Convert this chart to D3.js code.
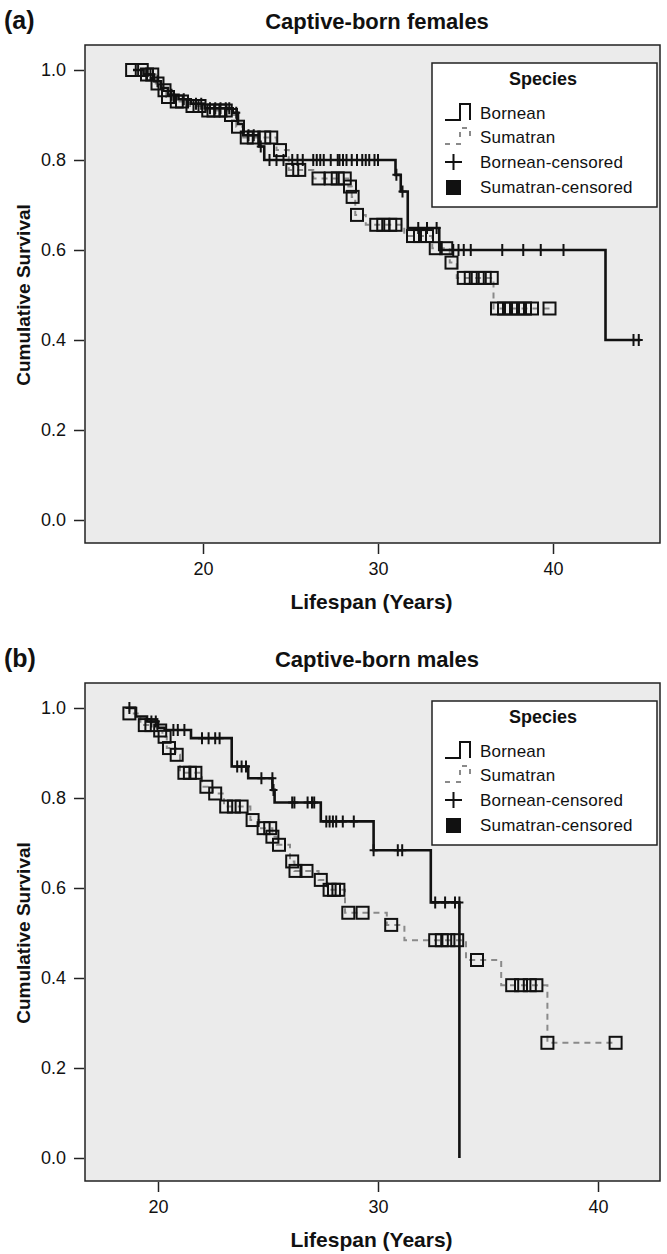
<!DOCTYPE html>
<html>
<head>
<meta charset="utf-8">
<script src="https://cdn.jsdelivr.net/npm/d3@7"></script>
<style>
  body { margin: 0; background: #fff; }
  svg text { font-family: "Liberation Sans", Arial, sans-serif; fill: #111; }
</style>
</head>
<body>
<div id="chart"></div>
<script>
// survival steps: [time in years, cumulative survival after the event]
const femaleBorneanSteps = [
  [16.0, 1.0], [16.6, 0.99], [17.2, 0.975], [17.6, 0.96], [18.0, 0.945], [18.6, 0.935],
  [19.3, 0.925], [20.1, 0.915], [21.7, 0.905], [22.0, 0.88], [22.3, 0.855], [23.2, 0.83],
  [23.5, 0.80], [31.0, 0.767], [31.3, 0.73], [31.7, 0.649], [33.5, 0.60], [43.0, 0.40], [45.0, 0.40]
];
const femaleBorneanCensored = [
  [16.8, 0.99], [17.0, 0.99], [17.4, 0.975], [18.2, 0.945], [18.9, 0.935], [19.6, 0.925],
  [19.9, 0.925], [20.4, 0.915], [20.7, 0.915], [21.0, 0.915], [21.3, 0.915], [21.5, 0.915],
  [21.9, 0.905], [22.6, 0.855], [22.9, 0.855], [23.3, 0.83], [23.8, 0.80], [24.2, 0.80],
  [24.6, 0.80], [25.1, 0.80], [25.4, 0.80], [25.7, 0.80], [26.3, 0.80], [26.5, 0.80],
  [26.7, 0.80], [26.9, 0.80], [27.3, 0.80], [27.7, 0.80], [27.8, 0.80], [28.0, 0.80],
  [28.2, 0.80], [28.5, 0.80], [28.8, 0.80], [29.1, 0.80], [29.3, 0.80], [29.5, 0.80],
  [29.8, 0.80], [30.0, 0.80], [31.05, 0.767], [31.4, 0.73], [32.3, 0.649], [32.8, 0.649],
  [33.35, 0.649], [34.3, 0.60], [34.6, 0.60], [34.9, 0.60], [35.3, 0.60], [37.1, 0.60],
  [38.3, 0.60], [39.3, 0.60], [40.6, 0.60], [44.6, 0.40], [44.9, 0.40]
];
const femaleSumatranSteps = [
  [16.0, 1.0], [16.7, 0.99], [17.3, 0.97], [17.7, 0.955], [17.9, 0.94], [18.3, 0.93],
  [19.2, 0.92], [20.1, 0.91], [21.5, 0.90], [21.9, 0.874], [22.3, 0.85], [24.2, 0.822],
  [24.9, 0.778], [26.3, 0.759], [28.3, 0.741], [28.5, 0.718], [28.7, 0.678], [29.3, 0.656],
  [31.5, 0.631], [33.1, 0.604], [34.1, 0.572], [34.5, 0.538], [36.6, 0.47], [39.8, 0.47]
];
const femaleSumatranCensored = [
  [15.95, 1.0], [16.5, 1.0], [16.8, 0.99], [17.1, 0.99], [17.4, 0.97], [17.8, 0.955],
  [18.0, 0.94], [18.5, 0.93], [18.8, 0.93], [19.4, 0.92], [19.8, 0.92], [20.3, 0.91],
  [20.6, 0.91], [21.0, 0.91], [21.3, 0.91], [21.6, 0.90], [22.0, 0.874], [22.5, 0.85],
  [22.9, 0.85], [23.5, 0.85], [23.9, 0.85], [24.4, 0.822], [25.1, 0.778], [25.5, 0.778],
  [26.6, 0.759], [27.3, 0.759], [27.7, 0.759], [28.1, 0.759], [28.4, 0.741], [28.55, 0.718],
  [28.8, 0.678], [29.9, 0.656], [30.3, 0.656], [30.7, 0.656], [31.0, 0.656], [32.0, 0.631],
  [32.4, 0.631], [32.8, 0.631], [33.3, 0.604], [33.9, 0.604], [34.2, 0.572], [34.9, 0.538],
  [35.3, 0.538], [35.7, 0.538], [36.1, 0.538], [36.5, 0.538], [36.8, 0.47], [37.2, 0.47],
  [37.6, 0.47], [38.0, 0.47], [38.4, 0.47], [38.8, 0.47], [39.8, 0.47]
];

const maleBorneanSteps = [
  [18.7, 1.0], [19.0, 0.981], [19.5, 0.97], [20.0, 0.956], [20.3, 0.951], [21.5, 0.933],
  [23.35, 0.87], [24.1, 0.844], [25.2, 0.818], [25.3, 0.79], [27.4, 0.748], [29.8, 0.684],
  [32.4, 0.568], [33.7, 0.0]
];
const maleBorneanCensored = [
  [18.7, 1.0], [19.7, 0.97], [19.9, 0.97], [20.7, 0.951], [20.9, 0.951], [21.2, 0.951],
  [22.0, 0.933], [22.3, 0.933], [22.6, 0.933], [22.8, 0.933], [23.6, 0.87], [23.8, 0.87],
  [24.0, 0.87], [24.7, 0.844], [25.2, 0.844], [25.25, 0.818], [26.1, 0.79], [26.2, 0.79],
  [26.8, 0.79], [27.0, 0.79], [27.1, 0.79], [27.65, 0.748], [27.8, 0.748], [27.95, 0.748],
  [28.1, 0.748], [28.4, 0.748], [28.9, 0.748], [29.8, 0.684], [30.9, 0.684], [31.1, 0.684],
  [32.6, 0.568], [33.05, 0.568], [33.5, 0.568], [33.7, 0.568]
];
const maleSumatranSteps = [
  [18.6, 1.0], [18.7, 0.988], [19.2, 0.962], [20.0, 0.95], [20.2, 0.936], [20.4, 0.911],
  [20.8, 0.896], [21.0, 0.856], [22.0, 0.825], [22.5, 0.81], [23.0, 0.781], [24.2, 0.751],
  [24.6, 0.733], [25.2, 0.714], [25.4, 0.696], [26.0, 0.659], [26.2, 0.638], [27.3, 0.618],
  [27.7, 0.596], [28.5, 0.545], [30.4, 0.518], [31.2, 0.484], [34.0, 0.44], [35.6, 0.384],
  [37.7, 0.256], [40.8, 0.256]
];
const maleSumatranCensored = [
  [18.7, 0.988], [19.4, 0.962], [19.7, 0.962], [20.1, 0.95], [20.3, 0.936], [20.5, 0.911],
  [20.85, 0.896], [21.2, 0.856], [21.45, 0.856], [21.7, 0.856], [22.2, 0.825], [22.6, 0.81],
  [23.1, 0.781], [23.45, 0.781], [23.8, 0.781], [24.3, 0.751], [24.8, 0.733], [25.1, 0.733],
  [25.2, 0.714], [25.5, 0.696], [26.1, 0.659], [26.25, 0.638], [26.75, 0.638], [27.4, 0.618],
  [27.8, 0.596], [28.0, 0.596], [28.2, 0.596], [28.65, 0.545], [29.3, 0.545], [30.6, 0.518],
  [32.6, 0.484], [32.9, 0.484], [33.2, 0.484], [33.6, 0.484], [34.5, 0.44], [36.1, 0.384],
  [36.5, 0.384], [36.9, 0.384], [37.2, 0.384], [37.7, 0.256], [40.8, 0.256]
];

const xTickValues = [20, 30, 40];
const yTickValues = [0.0, 0.2, 0.4, 0.6, 0.8, 1.0];
const legendLabels = ["Bornean", "Sumatran", "Bornean-censored", "Sumatran-censored"];

const W = 667, H = 1254;
const svg = d3.select("#chart").append("svg")
  .attr("width", W)
  .attr("height", H);

function drawPanel(p) {
  const left = 85, right = 660;
  const top = p.yOne - 25, bottom = p.yZero + 23;
  const x = d3.scaleLinear().domain(p.xDomain).range([left, right]);
  const y = d3.scaleLinear().domain([0, 1]).range([p.yZero, p.yOne]);
  const g = svg.append("g");

  // panel letter + title
  g.append("text").attr("x", 4).attr("y", top - 16)
    .style("font-size", "25px").style("font-weight", "bold").text(p.letter);
  g.append("text").attr("x", 377).attr("y", top - 16)
    .attr("text-anchor", "middle")
    .style("font-size", "22px").style("font-weight", "bold").text(p.title);

  // plot area
  g.append("rect")
    .attr("x", left).attr("y", top)
    .attr("width", right - left).attr("height", bottom - top)
    .attr("fill", "#ebebeb").attr("stroke", "#222").attr("stroke-width", 1.5);

  // axes
  const ya = g.append("g").attr("transform", `translate(${left - 1},0)`)
    .call(d3.axisLeft(y).tickValues(yTickValues).tickFormat(d3.format(".1f")).tickSize(10).tickPadding(8));
  const xa = g.append("g").attr("transform", `translate(0,${bottom + 1})`)
    .call(d3.axisBottom(x).tickValues(xTickValues).tickSize(10).tickPadding(8));
  [ya, xa].forEach(a => {
    a.select(".domain").remove();
    a.selectAll(".tick line").attr("stroke", "#222").attr("stroke-width", 1.5);
    a.selectAll(".tick text").style("font-size", "18px").attr("fill", "#111")
      .style("font-family", "'Liberation Sans', Arial, sans-serif");
  });

  g.append("text")
    .attr("x", (left + right) / 2 - 1).attr("y", bottom + 66)
    .attr("text-anchor", "middle")
    .style("font-size", "21px").style("font-weight", "bold")
    .text("Lifespan (Years)");
  g.append("text")
    .attr("transform", `translate(30,${(p.yZero + p.yOne) / 2}) rotate(-90)`)
    .attr("text-anchor", "middle")
    .style("font-size", "19px").style("font-weight", "bold")
    .text("Cumulative Survival");

  const line = d3.line()
    .x(d => x(d[0]))
    .y(d => y(d[1]))
    .curve(d3.curveStepAfter);

  // sumatran (dashed grey) drawn first
  g.append("path").datum(p.sumSteps)
    .attr("d", line).attr("fill", "none")
    .attr("stroke", "#8a8a8a").attr("stroke-width", 2)
    .attr("stroke-dasharray", "6,5");
  g.append("path").datum(p.borSteps)
    .attr("d", line).attr("fill", "none")
    .attr("stroke", "#111").attr("stroke-width", 2.6);

  // censored marks
  g.selectAll(".sq").data(p.sumCens).enter().append("rect")
    .attr("x", d => x(d[0]) - 6).attr("y", d => y(d[1]) - 6)
    .attr("width", 12).attr("height", 12)
    .attr("fill", "none").attr("stroke", "#111").attr("stroke-width", 2);
  g.selectAll(".pl").data(p.borCens).enter().append("path")
    .attr("d", d => `M${x(d[0]) - 4},${y(d[1])}H${x(d[0]) + 4}M${x(d[0])},${y(d[1]) - 6}V${y(d[1]) + 6}`)
    .attr("fill", "none").attr("stroke", "#111").attr("stroke-width", 2);

  // legend
  const lx = 432, ly = top + 18;
  const lg = g.append("g").attr("transform", `translate(${lx},${ly})`);
  lg.append("rect").attr("width", 225).attr("height", 144)
    .attr("fill", "#fff").attr("stroke", "#222").attr("stroke-width", 1.5);
  lg.append("text").attr("x", 111).attr("y", 22).attr("text-anchor", "middle")
    .style("font-size", "18px").style("font-weight", "bold").text("Species");
  const rowY = [50, 74, 99, 124];
  lg.selectAll(".lt").data(legendLabels).enter().append("text")
    .attr("x", 48).attr("y", (d, i) => rowY[i] + 6)
    .style("font-size", "17px").style("letter-spacing", "0.2px").text(d => d);
  lg.append("path").attr("d", `M13,${rowY[0] + 7}H28V${rowY[0] - 9}H38V${rowY[0] + 7}`)
    .attr("fill", "none").attr("stroke", "#111").attr("stroke-width", 2);
  lg.append("path").attr("d", `M13,${rowY[1] + 7}H28V${rowY[1] - 9}H38V${rowY[1] + 3}`)
    .attr("fill", "none").attr("stroke", "#8a8a8a").attr("stroke-width", 2)
    .attr("stroke-dasharray", "5,6");
  lg.append("path").attr("d", `M13,${rowY[2]}H30M21.5,${rowY[2] - 8}V${rowY[2] + 8}`)
    .attr("fill", "none").attr("stroke", "#111").attr("stroke-width", 2);
  lg.append("rect").attr("x", 14).attr("y", rowY[3] - 7).attr("width", 15).attr("height", 15)
    .attr("fill", "#111");
}

drawPanel({
  letter: "(a)", title: "Captive-born females",
  xDomain: [13.257, 46.114], yZero: 520, yOne: 70,
  borSteps: femaleBorneanSteps, borCens: femaleBorneanCensored,
  sumSteps: femaleSumatranSteps, sumCens: femaleSumatranCensored
});
drawPanel({
  letter: "(b)", title: "Captive-born males",
  xDomain: [16.682, 42.818], yZero: 1158, yOne: 708,
  borSteps: maleBorneanSteps, borCens: maleBorneanCensored,
  sumSteps: maleSumatranSteps, sumCens: maleSumatranCensored
});
</script>
</body>
</html>
